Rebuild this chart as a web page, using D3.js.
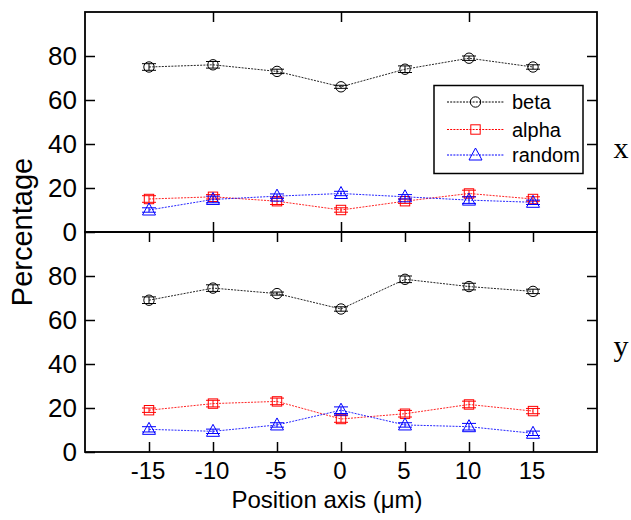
<!DOCTYPE html>
<html><head><meta charset="utf-8">
<script src="https://cdn.jsdelivr.net/npm/d3@7"></script>
<style>body{margin:0;background:#fff}svg{display:block}</style>
</head><body>
<svg id="c" width="631" height="520"></svg>
<script>
const positions = [-15, -10, -5, 0, 5, 10, 15];
const seriesNames = ["beta", "alpha", "random"];
const seriesColors = ["#000000", "#ff0000", "#0000ff"];
// panel x
const betaX   = [75, 76, 73, 66, 74, 79, 75];
const alphaX  = [15, 16, 14, 10, 14, 17.5, 15];
const randomX = [10, 14.8, 16.3, 17.5, 16, 14.5, 13.5];
const betaXErr   = [1.5, 1.5, 1, 0.7, 1.5, 1, 1];
const alphaXErr  = [1.5, 1, 1.5, 1, 1, 1.5, 1];
const randomXErr = [1, 1.5, 1, 1, 1, 1.5, 1];
// panel y
const betaY   = [69, 74.5, 72, 65, 78.5, 75.2, 73];
const alphaY  = [19, 22, 23, 15, 17.4, 21.6, 18.6];
const randomY = [10.3, 9.4, 12.3, 19, 12.3, 11.5, 8.5];
const betaYErr   = [1.5, 1.5, 0.7, 1, 1.5, 1.5, 1];
const alphaYErr  = [1, 1.5, 1.5, 1.5, 1.5, 1.5, 1.2];
const randomYErr = [1.2, 1, 1, 1.5, 1, 1.5, 1];
const yTickValues = [0, 20, 40, 60, 80];
const xTickValuesTop = [-10, 0, 10];
const xTickValues = [-15, -10, -5, 0, 5, 10, 15];
const panelLabels = ["x", "y"];

const svg = d3.select("#c");
const L = 85, R = 597;
const x = d3.scaleLinear().domain([-20, 20]).range([L, R]);
const panels = [
  {y: d3.scaleLinear().domain([0, 100]).range([232, 12]), data: [betaX, alphaX, randomX], err: [betaXErr, alphaXErr, randomXErr], xt: xTickValuesTop, label: panelLabels[0]},
  {y: d3.scaleLinear().domain([0, 100]).range([452, 232]), data: [betaY, alphaY, randomY], err: [betaYErr, alphaYErr, randomYErr], xt: xTickValues, label: panelLabels[1]}
];

function marker(g, i, cx, cy, color) {
  if (i === 0) {
    g.append("circle").attr("cx", cx).attr("cy", cy).attr("r", 5.2)
      .attr("fill", "none").attr("stroke", color).attr("stroke-width", 1);
  } else if (i === 1) {
    g.append("rect").attr("x", cx - 4.7).attr("y", cy - 4.7).attr("width", 9.4).attr("height", 9.4)
      .attr("fill", "none").attr("stroke", color).attr("stroke-width", 1);
  } else {
    g.append("path").attr("d", `M${cx},${cy - 7}L${cx + 6.5},${cy + 5}L${cx - 6.5},${cy + 5}Z`)
      .attr("fill", "none").attr("stroke", color).attr("stroke-width", 1);
  }
}

panels.forEach((p, pi) => {
  const g = svg.append("g");
  const [y0, y1] = p.y.range();
  const ax = d3.axisLeft(p.y).tickValues(yTickValues).tickSizeInner(-10).tickSizeOuter(0).tickPadding(8).tickFormat(d3.format("d"));
  const ga = g.append("g").attr("transform", `translate(${L},0)`).call(ax);
  ga.select(".domain").remove();
  ga.selectAll("text").attr("font-family", "Arial, 'Liberation Sans', sans-serif").attr("font-size", 26).attr("fill", "#000");
  ga.selectAll("line").attr("stroke-width", 1.5);
  const ar = d3.axisRight(p.y).tickValues(yTickValues.filter(v => v > 0)).tickSizeInner(-10).tickSizeOuter(0).tickFormat("");
  const gr = g.append("g").attr("transform", `translate(${R},0)`).call(ar);
  gr.select(".domain").remove(); gr.selectAll("line").attr("stroke-width", 1.5);
  const at = d3.axisTop(x).tickValues(p.xt).tickSizeInner(-10).tickSizeOuter(0).tickFormat("");
  const gt = g.append("g").attr("transform", `translate(0,${y1})`).call(at);
  gt.select(".domain").remove(); gt.selectAll("line").attr("stroke-width", 1.5);
  const ab = d3.axisBottom(x).tickValues(p.xt).tickSizeInner(-10).tickSizeOuter(0).tickFormat("");
  const gb = g.append("g").attr("transform", `translate(0,${y0})`).call(ab);
  gb.select(".domain").remove(); gb.selectAll("line").attr("stroke-width", 1.5);
  g.append("rect").attr("x", L).attr("y", y1).attr("width", R - L).attr("height", y0 - y1)
    .attr("fill", "none").attr("stroke", "#000").attr("stroke-width", 1.8);
  p.data.forEach((vals, si) => {
    const color = seriesColors[si];
    const line = d3.line().x((d, i) => x(positions[i])).y(d => p.y(d));
    g.append("path").attr("d", line(vals)).attr("fill", "none").attr("stroke", color)
      .attr("stroke-width", 1).attr("stroke-dasharray", "2,1.2").attr("opacity", 0.85);
    vals.forEach((v, i) => {
      const cx = x(positions[i]), e = p.err[si][i];
      const yt = p.y(v + e), yb = p.y(v - e);
      g.append("line").attr("x1", cx).attr("x2", cx).attr("y1", yt).attr("y2", yb).attr("stroke", color).attr("stroke-width", 1);
      [yt, yb].forEach(yy => g.append("line").attr("x1", cx - 7).attr("x2", cx + 7).attr("y1", yy).attr("y2", yy).attr("stroke", color).attr("stroke-width", 1));
      marker(g, si, cx, p.y(v), color);
    });
  });
  svg.append("text").attr("x", 621).attr("y", (y0 + y1) / 2 + (pi === 0 ? 36 : 14))
    .attr("text-anchor", "middle").attr("font-family", "'Liberation Serif', 'Times New Roman', serif")
    .attr("font-size", 30).text(p.label);
});

const lg = svg.append("g");
lg.append("rect").attr("x", 434).attr("y", 85.5).attr("width", 149).attr("height", 88)
  .attr("fill", "#fff").attr("stroke", "#000").attr("stroke-width", 1.5);
const legendY = [102, 129.5, 155];
seriesNames.forEach((name, i) => {
  const yy = legendY[i];
  lg.append("line").attr("x1", 447).attr("x2", 504).attr("y1", yy).attr("y2", yy)
    .attr("stroke", seriesColors[i]).attr("stroke-width", 1).attr("stroke-dasharray", "2,1.2");
  marker(lg, i, 475.5, yy, seriesColors[i]);
  lg.append("text").attr("x", 512).attr("y", yy + 7).attr("font-family", "Arial, 'Liberation Sans', sans-serif")
    .attr("font-size", 20).text(name);
});

svg.append("g").selectAll("text").data(xTickValues).join("text")
  .attr("x", d => x(d) - 1).attr("y", 479).attr("text-anchor", "middle")
  .attr("font-family", "Arial, 'Liberation Sans', sans-serif").attr("font-size", 24).text(d => d);
svg.append("text").attr("x", 327).attr("y", 508).attr("text-anchor", "middle")
  .attr("font-family", "Arial, 'Liberation Sans', sans-serif").attr("font-size", 24).text("Position axis (μm)");
svg.append("text").attr("transform", "translate(32,232) rotate(-90)").attr("text-anchor", "middle")
  .attr("font-family", "Arial, 'Liberation Sans', sans-serif").attr("font-size", 29).text("Percentage");
</script>
</body></html>
